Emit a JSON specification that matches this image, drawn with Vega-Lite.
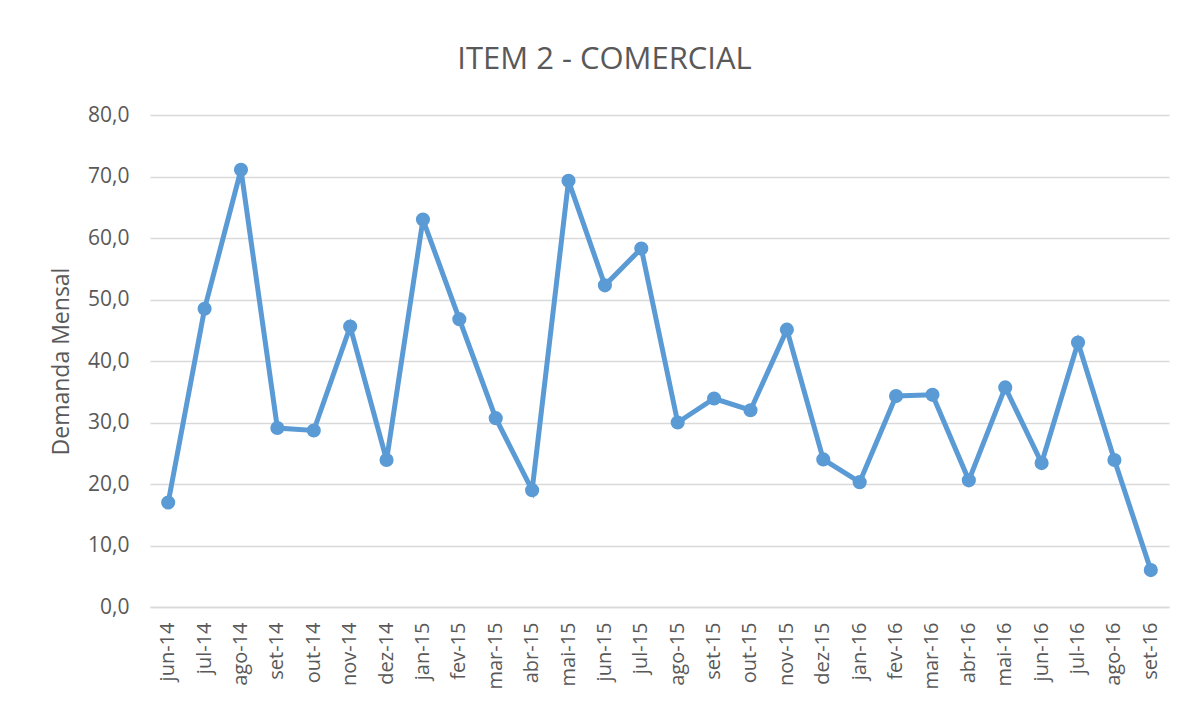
{
  "$schema": "https://vega.github.io/schema/vega-lite/v6.json",
  "width": 1019,
  "height": 492,
  "autosize": "none",
  "padding": {"left": 150, "top": 115, "right": 20, "bottom": 99},
  "background": "white",
  "title": {
    "text": "ITEM 2 - COMERCIAL",
    "font": "Open Sans",
    "fontSize": 31,
    "fontWeight": "normal",
    "color": "#595959",
    "anchor": "middle",
    "dx": -55,
    "offset": 28
  },
  "config": {
    "view": {"stroke": null},
    "font": "Open Sans"
  },
  "data": {
    "values": [
      {"mes": "jun-14", "demanda": 17.0},
      {"mes": "jul-14", "demanda": 48.5},
      {"mes": "ago-14", "demanda": 71.1},
      {"mes": "set-14", "demanda": 29.1},
      {"mes": "out-14", "demanda": 28.7},
      {"mes": "nov-14", "demanda": 45.6},
      {"mes": "dez-14", "demanda": 23.9},
      {"mes": "jan-15", "demanda": 63.0},
      {"mes": "fev-15", "demanda": 46.8},
      {"mes": "mar-15", "demanda": 30.7},
      {"mes": "abr-15", "demanda": 19.0},
      {"mes": "mai-15", "demanda": 69.3},
      {"mes": "jun-15", "demanda": 52.3},
      {"mes": "jul-15", "demanda": 58.3},
      {"mes": "ago-15", "demanda": 30.0},
      {"mes": "set-15", "demanda": 33.9},
      {"mes": "out-15", "demanda": 32.0},
      {"mes": "nov-15", "demanda": 45.1},
      {"mes": "dez-15", "demanda": 24.0},
      {"mes": "jan-16", "demanda": 20.3},
      {"mes": "fev-16", "demanda": 34.3},
      {"mes": "mar-16", "demanda": 34.5},
      {"mes": "abr-16", "demanda": 20.6},
      {"mes": "mai-16", "demanda": 35.7},
      {"mes": "jun-16", "demanda": 23.4},
      {"mes": "jul-16", "demanda": 43.0},
      {"mes": "ago-16", "demanda": 23.9},
      {"mes": "set-16", "demanda": 6.0}
    ]
  },
  "mark": {
    "type": "line",
    "color": "#5B9BD5",
    "strokeWidth": 5,
    "point": {"filled": true, "size": 200, "color": "#5B9BD5", "opacity": 1}
  },
  "encoding": {
    "x": {
      "field": "mes",
      "type": "ordinal",
      "sort": null,
      "scale": {"type": "band", "paddingInner": 0, "paddingOuter": 0},
      "axis": {
        "title": null,
        "labelAngle": -90,
        "labelAlign": "right",
        "labelBaseline": "middle",
        "labelFontSize": 20,
        "labelColor": "#595959",
        "labelPadding": 15,
        "ticks": false,
        "domain": true,
        "domainColor": "#D9D9D9",
        "domainWidth": 1.5,
        "grid": false
      }
    },
    "y": {
      "field": "demanda",
      "type": "quantitative",
      "scale": {"domain": [0, 80], "nice": false},
      "axis": {
        "title": "Demanda Mensal",
        "titleFontSize": 23,
        "titleFontWeight": "normal",
        "titleColor": "#595959",
        "titlePadding": 14,
        "values": [0, 10, 20, 30, 40, 50, 60, 70, 80],
        "labelExpr": "replace(format(datum.value, '.1f'), '.', ',')",
        "labelFontSize": 21,
        "labelColor": "#595959",
        "labelPadding": 21,
        "ticks": false,
        "domain": false,
        "grid": true,
        "gridColor": "#D9D9D9",
        "gridWidth": 1.5
      }
    }
  }
}
